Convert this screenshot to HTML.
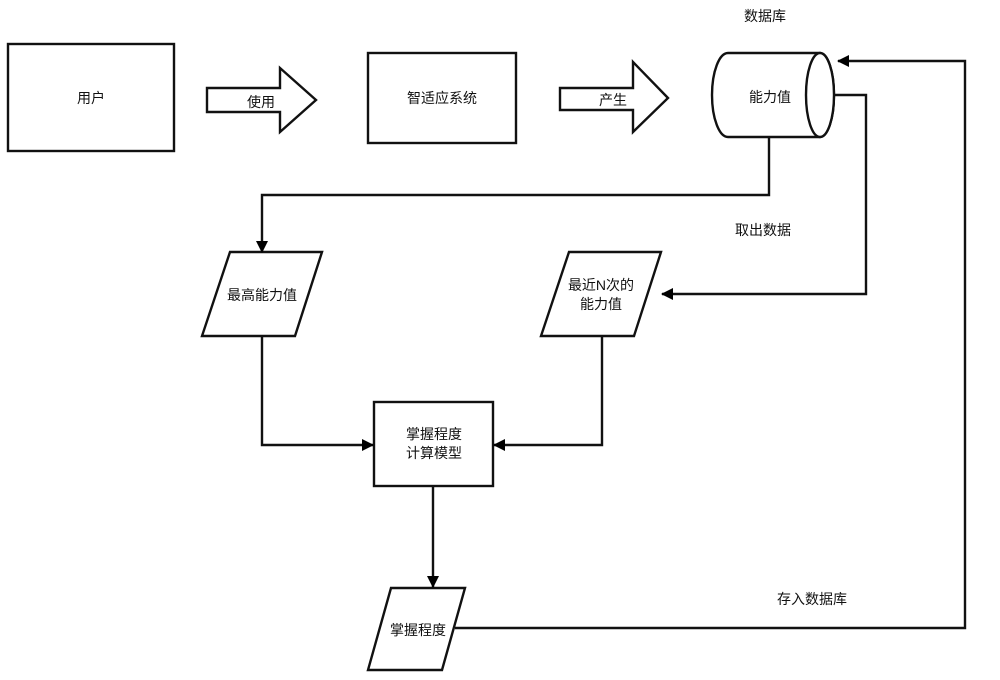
<!DOCTYPE html>
<html><head><meta charset="utf-8"><style>
html,body{margin:0;padding:0;background:#fff;width:1000px;height:680px;overflow:hidden}
text{font-family:"Liberation Sans","Noto Sans CJK SC",sans-serif;font-size:14px;fill:#111}
</style></head><body>
<svg width="1000" height="680" viewBox="0 0 1000 680" xmlns="http://www.w3.org/2000/svg">
<defs><marker id="a" markerWidth="12" markerHeight="12" refX="11" refY="6" orient="auto" markerUnits="userSpaceOnUse"><path d="M0,0 L12,6 L0,12 z" fill="#000"/></marker></defs>
<g fill="#fff" stroke="#111" stroke-width="2.4">
<rect x="8" y="44" width="166" height="107"/>
<path d="M207,88 H280 V68 L316,100 L280,132 V112 H207 Z"/>
<rect x="368" y="53" width="148" height="90"/>
<path d="M560,88 H633 V62 L668,98 L633,132 V110 H560 Z"/>
<path d="M728,53 H820 A14,42 0 0 1 820,137 H728 A16,42 0 0 1 728,53 Z"/>
<ellipse cx="820" cy="95" rx="14" ry="42"/>
<path d="M230,252 H322 L295,336 H202 Z"/>
<path d="M569,252 H661 L634,336 H541 Z"/>
<rect x="374" y="402" width="119" height="84"/>
<path d="M391,588 H465 L442,670 H368 Z"/>
</g>
<g fill="none" stroke="#111" stroke-width="2.4">
<path d="M769,137 V195 H262 V252" marker-end="url(#a)"/>
<path d="M834,95 H866 V294 H662" marker-end="url(#a)"/>
<path d="M262,336 V445 H373" marker-end="url(#a)"/>
<path d="M602,336 V445 H494" marker-end="url(#a)"/>
<path d="M433,486 V587" marker-end="url(#a)"/>
<path d="M455,628 H965 V61 H838" marker-end="url(#a)"/>
</g>
<text x="91" y="103" text-anchor="middle">用户</text>
<text x="261" y="107" text-anchor="middle">使用</text>
<text x="442" y="103" text-anchor="middle">智适应系统</text>
<text x="613" y="105" text-anchor="middle">产生</text>
<text x="765" y="21" text-anchor="middle">数据库</text>
<text x="770" y="102" text-anchor="middle">能力值</text>
<text x="763" y="235" text-anchor="middle">取出数据</text>
<text x="262" y="300" text-anchor="middle">最高能力值</text>
<text x="601" y="290" text-anchor="middle">最近N次的</text>
<text x="601" y="309" text-anchor="middle">能力值</text>
<text x="434" y="439" text-anchor="middle">掌握程度</text>
<text x="434" y="458" text-anchor="middle">计算模型</text>
<text x="418" y="635" text-anchor="middle">掌握程度</text>
<text x="812" y="604" text-anchor="middle">存入数据库</text>
</svg>
</body></html>
